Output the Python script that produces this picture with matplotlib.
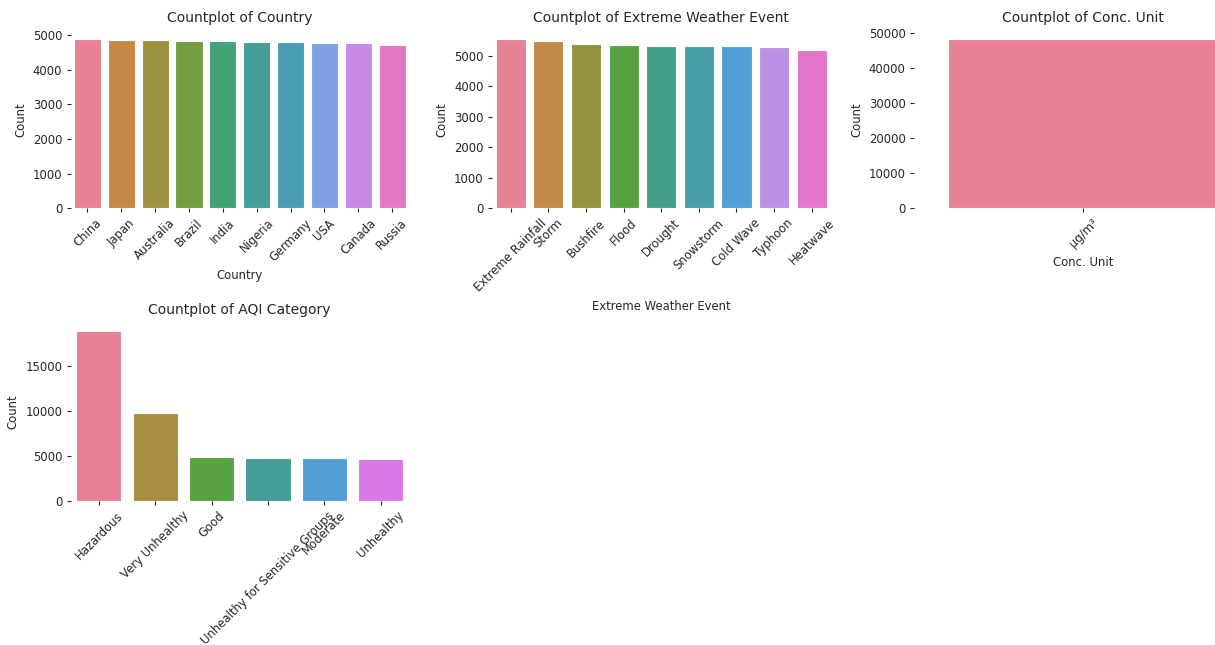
import matplotlib
matplotlib.use("Agg")
import matplotlib.pyplot as plt
import seaborn as sns

# counts per category for each column
country = ["China", "Japan", "Australia", "Brazil", "India", "Nigeria",
           "Germany", "USA", "Canada", "Russia"]
country_counts = [4890, 4862, 4860, 4840, 4812, 4810, 4785, 4765, 4760, 4697]

weather = ["Extreme Rainfall", "Storm", "Bushfire", "Flood", "Drought",
           "Snowstorm", "Cold Wave", "Typhoon", "Heatwave"]
weather_counts = [5566, 5490, 5380, 5350, 5327, 5325, 5322, 5294, 5205]

unit = ["µg/m³"]
unit_counts = [48400]

aqi = ["Hazardous", "Very Unhealthy", "Good", "Unhealthy for Sensitive Groups",
       "Moderate", "Unhealthy"]
aqi_counts = [18919, 9739, 4926, 4814, 4814, 4668]

plt.rcParams.update({
    "font.family": ["DejaVu Sans"],
    "font.size": 8.4,
    "text.color": "0.15",
    "axes.labelcolor": "0.15",
    "xtick.color": "0.15",
    "ytick.color": "0.15",
    "xtick.major.size": 3,
    "ytick.major.size": 3,
    "xtick.major.pad": 3,
    "ytick.major.pad": 3,
})

fig = plt.figure(figsize=(12.15, 6.45), dpi=100)

W, H = 1215.0, 645.0
col_left = [70.5, 492, 914]
ax_w = 338.5
row_bottom = [208.3, 500.7]
ax_h = 178.0

# (column name, categories, counts, row, col, show x label)
panels = [
    ("Country", country, country_counts, 0, 0, True),
    ("Extreme Weather Event", weather, weather_counts, 0, 1, True),
    ("Conc. Unit", unit, unit_counts, 0, 2, True),
    ("AQI Category", aqi, aqi_counts, 1, 0, False),
]

for name, cats, counts, r, c, show_xlabel in panels:
    ax = fig.add_axes([col_left[c] / W, (H - row_bottom[r]) / H, ax_w / W, ax_h / H])
    colors = sns.color_palette("husl", len(cats), desat=0.75)
    ax.bar(range(len(cats)), counts, width=0.8, color=colors,
           edgecolor="white", linewidth=0.8)
    ax.set_xlim(-0.5, len(cats) - 0.5)
    ax.set_ylim(0, max(counts) * 1.05)
    ax.set_xticks(range(len(cats)))
    ax.set_xticklabels(cats, rotation=45)
    ax.set_title(f"Countplot of {name}", fontsize=10)
    if show_xlabel:
        ax.set_xlabel(name)
    ax.set_ylabel("Count")
    for side in ["top", "right", "left", "bottom"]:
        ax.spines[side].set_visible(False)

fig.savefig("out.png", dpi=100)
